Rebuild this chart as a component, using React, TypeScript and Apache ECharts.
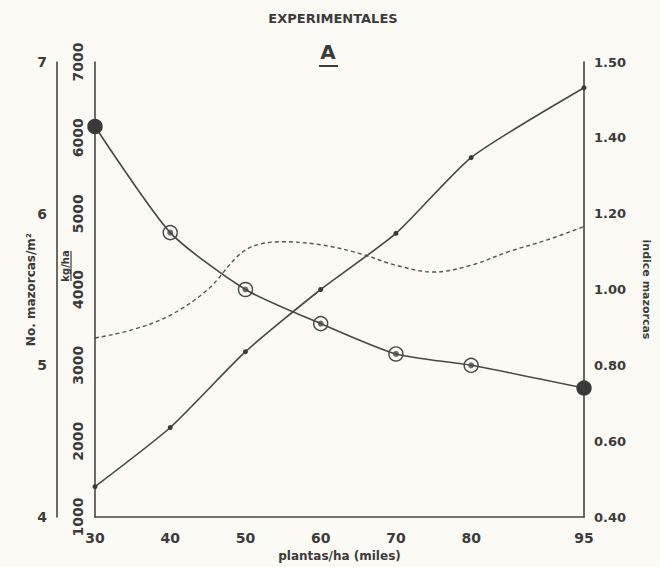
import React, { useEffect, useRef } from 'react';
import * as echarts from 'echarts';

// plantas/ha (miles)
const plantas = [30, 40, 50, 60, 70, 80, 95];
// índice mazorcas (right axis)
const indiceMazorcas = [1.43, 1.15, 1.0, 0.91, 0.83, 0.8, 0.74];
// No. mazorcas/m2 (outer left axis)
const mazorcasM2 = [4.2, 4.59, 5.09, 5.5, 5.87, 6.37, 6.83];
// kg/ha (inner left axis), dashed curve read along x
const rendX = [30, 35, 40, 45, 50, 55, 60, 65, 70, 75, 80, 85, 90, 95];
const rendKgHa = [3360, 3470, 3660, 4000, 4520, 4630, 4590, 4480, 4320, 4230, 4320, 4500, 4650, 4830];
// right axis tick labels as printed
const indiceLabels: Record<string, string> = {
  '0.4': '0.40', '0.6': '0.60', '0.8': '0.80', '1': '1.00', '1.2': '1.20', '1.4': '1.40', '1.6': '1.50',
};

export default function App() {
  const ref = useRef<HTMLDivElement>(null);
  useEffect(() => {
    const chart = echarts.init(ref.current!, undefined, { renderer: 'svg' });
    const ink = '#3b3b3b';
    const lineInk = '#474747';
    const ff = '"DejaVu Sans", sans-serif';
    const lbl = (size: number) => ({ color: ink, fontFamily: ff, fontWeight: 'bold' as const, fontSize: size });

    const indData = plantas.map((x, i) => {
      const filled = i === 0 || i === plantas.length - 1;
      return {
        value: [x, indiceMazorcas[i]],
        itemStyle: filled
          ? { color: '#3a3a3a', borderColor: '#3a3a3a', borderWidth: 1.4 }
          : { color: 'rgba(0,0,0,0)', borderColor: lineInk, borderWidth: 1.4 },
      };
    });

    chart.setOption({
      animation: false,
      backgroundColor: '#fbfaf4',
      grid: { left: 95, right: 74, top: 62, bottom: 50 },
      graphic: [
        { type: 'text', x: 333, y: 18, style: { text: 'EXPERIMENTALES', fill: ink, font: `bold 13px ${ff}`, align: 'center', verticalAlign: 'middle' } },
        { type: 'text', x: 328, y: 52, style: { text: 'A', fill: ink, font: `bold 20px ${ff}`, align: 'center', verticalAlign: 'middle' } },
        { type: 'line', shape: { x1: 319, y1: 66, x2: 338, y2: 66 }, style: { stroke: ink, lineWidth: 2 } },
        { type: 'text', x: 65, y: 266, rotation: Math.PI / 2, style: { text: 'kg/ha', fill: ink, font: `bold 10px ${ff}`, align: 'center', verticalAlign: 'middle' } },
        { type: 'line', shape: { x1: 71, y1: 251, x2: 71, y2: 281 }, style: { stroke: ink, lineWidth: 1.2 } },
      ],
      xAxis: {
        type: 'value',
        min: 30,
        max: 95,
        axisLine: { show: true, lineStyle: { color: lineInk, width: 1.6 } },
        axisTick: { show: false },
        splitLine: { show: false },
        axisLabel: { ...lbl(14), margin: 14, customValues: plantas },
        name: 'plantas/ha (miles)',
        nameLocation: 'middle',
        nameGap: 29,
        nameTextStyle: lbl(12),
      },
      yAxis: [
        {
          type: 'value',
          position: 'left',
          min: 1000,
          max: 7000,
          interval: 1000,
          axisLine: { show: true, lineStyle: { color: lineInk, width: 1.6 } },
          axisTick: { show: false },
          splitLine: { show: false },
          axisLabel: { ...lbl(14), rotate: 90, margin: 10, formatter: (v: number) => String(v) },
        },
        {
          type: 'value',
          position: 'left',
          offset: 38,
          min: 4,
          max: 7,
          interval: 1,
          axisLine: { show: true, lineStyle: { color: lineInk, width: 1.6 } },
          axisTick: { show: false },
          splitLine: { show: false },
          axisLabel: { ...lbl(14), margin: 10 },
          name: 'No. mazorcas/m²',
          nameLocation: 'middle',
          nameGap: 20,
          nameMoveOverlap: false,
          nameRotate: 90,
          nameTextStyle: lbl(12),
        },
        {
          type: 'value',
          position: 'right',
          min: 0.4,
          max: 1.6,
          interval: 0.2,
          axisLine: { show: true, lineStyle: { color: lineInk, width: 1.6 } },
          axisTick: { show: false },
          splitLine: { show: false },
          axisLabel: {
            ...lbl(13),
            margin: 10,
            formatter: (v: number) => indiceLabels[String(Math.round(v * 10) / 10)] ?? v.toFixed(2),
          },
          name: 'indice mazorcas',
          nameLocation: 'middle',
          nameGap: 57,
          nameMoveOverlap: false,
          nameRotate: -90,
          nameTextStyle: lbl(11),
        },
      ],
      series: [
        {
          name: 'kg/ha',
          type: 'line',
          yAxisIndex: 0,
          data: rendX.map((x, i) => [x, rendKgHa[i]]),
          smooth: 0.35,
          showSymbol: false,
          lineStyle: { color: '#555', width: 1.4, type: [4, 3] },
        },
        {
          name: 'No. mazorcas/m2',
          type: 'line',
          yAxisIndex: 1,
          data: plantas.map((x, i) => [x, mazorcasM2[i]]),
          smooth: 0.2,
          symbol: 'circle',
          symbolSize: 5,
          itemStyle: { color: '#3a3a3a' },
          lineStyle: { color: lineInk, width: 1.6 },
        },
        {
          name: 'indice mazorcas',
          type: 'line',
          yAxisIndex: 2,
          data: indData,
          smooth: 0.22,
          symbol: 'circle',
          symbolSize: 14,
          lineStyle: { color: lineInk, width: 1.6 },
        },
        {
          name: 'indice centro',
          type: 'scatter',
          yAxisIndex: 2,
          data: plantas.map((x, i) => [x, indiceMazorcas[i]]),
          symbol: 'circle',
          symbolSize: 6,
          itemStyle: { color: '#4a4a4a' },
        },
      ],
    });
    return () => chart.dispose();
  }, []);
  return <div ref={ref} style={{ position: 'fixed', left: 0, top: 0, width: 660, height: 567 }} />;
}
